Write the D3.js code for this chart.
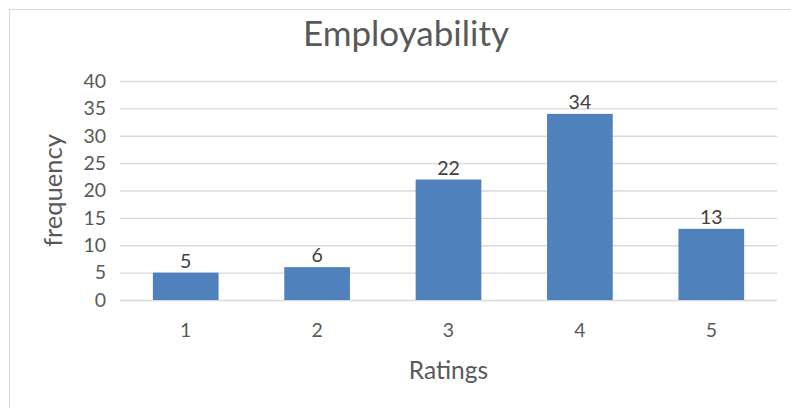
<!DOCTYPE html>
<html>
<head>
<meta charset="utf-8">
<script src="https://cdn.jsdelivr.net/npm/d3@7"></script>
<style>
  html, body { margin: 0; padding: 0; background: #fff; }
  svg { display: block; }
  text { font-family: Lato, "Open Sans", "Liberation Sans", sans-serif; }
</style>
</head>
<body>
<svg id="chart" width="791" height="408"></svg>
<script>
const categories = ["1", "2", "3", "4", "5"];
const values = [5, 6, 22, 34, 13];
const yTicks = [0, 5, 10, 15, 20, 25, 30, 35, 40];
const title = "Employability";
const xTitle = "Ratings";
const yTitle = "frequency";

const svg = d3.select("#chart");
const W = 791, H = 408;
const plot = { left: 120, right: 777, top: 81, bottom: 300 };

// chart area border (extends beyond right/bottom edges)
svg.append("path")
  .attr("d", `M9.5,${H + 2} L9.5,9.5 L${W + 2},9.5`)
  .attr("fill", "none")
  .attr("stroke", "#d9d9d9")
  .attr("stroke-width", 1);

const x = d3.scaleBand()
  .domain(categories)
  .range([plot.left, plot.right])
  .paddingInner(0.5)
  .paddingOuter(0.25);

const y = d3.scaleLinear()
  .domain([0, 40])
  .range([plot.bottom, plot.top]);

// gridlines
const yAxis = d3.axisLeft(y)
  .tickValues(yTicks)
  .tickSize(-(plot.right - plot.left))
  .tickPadding(14)
  .tickFormat(d3.format("d"));

const gy = svg.append("g")
  .attr("transform", `translate(${plot.left},0)`)
  .call(yAxis);
gy.select(".domain").remove();
gy.selectAll(".tick line")
  .attr("stroke", "#d9d9d9")
  .attr("stroke-width", 1.3);
gy.selectAll(".tick text")
  .attr("fill", "#595959")
  .attr("font-size", 19.5);

// bars
svg.append("g").selectAll("rect")
  .data(values)
  .join("rect")
  .attr("x", (d, i) => x(categories[i]))
  .attr("width", x.bandwidth())
  .attr("y", d => y(d))
  .attr("height", d => y(0) - y(d))
  .attr("fill", "#4f81bd");

// data labels
svg.append("g").selectAll("text")
  .data(values)
  .join("text")
  .attr("x", (d, i) => x(categories[i]) + x.bandwidth() / 2)
  .attr("y", d => y(d) - 5)
  .attr("text-anchor", "middle")
  .attr("fill", "#404040")
  .attr("font-size", 19.5)
  .text(d => d);

// x axis labels
const xAxis = d3.axisBottom(x).tickSize(0).tickPadding(23);
const gx = svg.append("g")
  .attr("transform", `translate(0,${plot.bottom})`)
  .call(xAxis);
gx.select(".domain").remove();
gx.selectAll(".tick text")
  .attr("fill", "#595959")
  .attr("font-size", 19.5);

// title
svg.append("text")
  .attr("x", 406)
  .attr("y", 46)
  .attr("text-anchor", "middle")
  .attr("fill", "#595959")
  .attr("font-size", 35)
  .text(title);

// x title
svg.append("text")
  .attr("x", (plot.left + plot.right) / 2)
  .attr("y", 379)
  .attr("text-anchor", "middle")
  .attr("fill", "#595959")
  .attr("font-size", 24.5)
  .text(xTitle);

// y title
svg.append("text")
  .attr("transform", `translate(62,${(plot.top + plot.bottom) / 2}) rotate(-90)`)
  .attr("text-anchor", "middle")
  .attr("fill", "#595959")
  .attr("font-size", 25.5)
  .text(yTitle);
</script>
</body>
</html>
